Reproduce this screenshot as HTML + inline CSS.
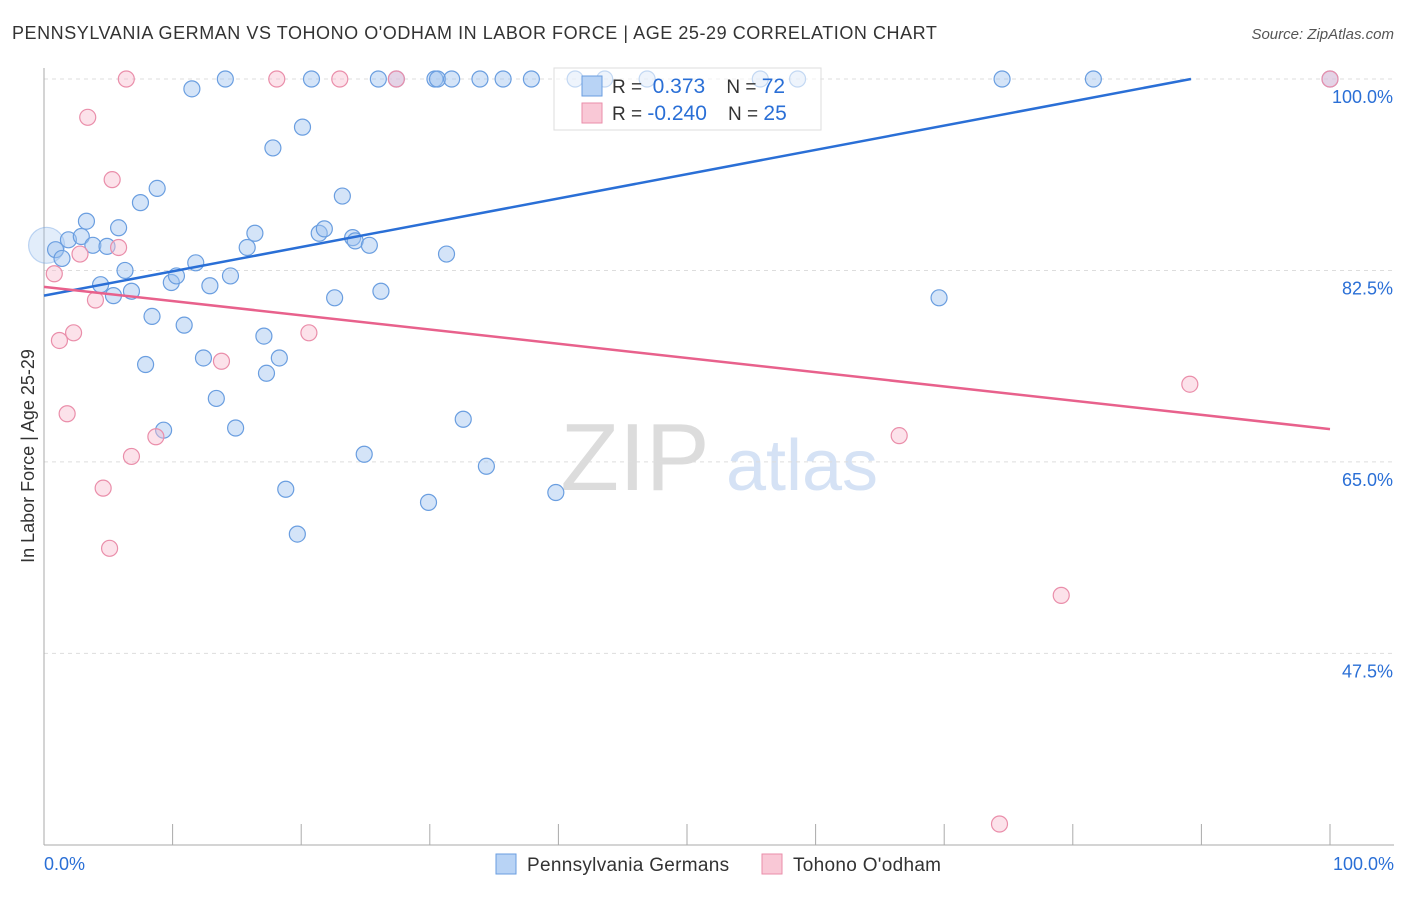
<!DOCTYPE html>
<html><head><meta charset="utf-8"><style>
body{margin:0;background:#fff;font-family:"Liberation Sans",sans-serif}
svg text{font-family:"Liberation Sans",sans-serif}
</style></head><body>
<svg id="chart" width="1406" height="892">
<text x="12" y="39" font-size="18" fill="#333" letter-spacing="0.55">PENNSYLVANIA GERMAN VS TOHONO O'ODHAM IN LABOR FORCE | AGE 25-29 CORRELATION CHART</text>
<text x="1394" y="39" font-size="15" fill="#555" font-style="italic" text-anchor="end">Source: ZipAtlas.com</text>
<text x="635" y="490" font-size="96" fill="#dcdcdc" font-family="Liberation Serif,serif" text-anchor="middle">ZIP</text>
<text x="802" y="490" font-size="72" fill="#d5e2f5" text-anchor="middle">atlas</text>
<text transform="translate(34,456) rotate(-90)" font-size="18" fill="#333" text-anchor="middle">In Labor Force | Age 25-29</text>
<g id="grid"></g><g id="marks"></g>
<g>
<rect x="554" y="68" width="267" height="62" fill="rgba(255,255,255,0.6)" stroke="#ddd"/>
<rect x="582" y="76" width="20" height="20" fill="#b8d3f5" stroke="#6a9ee0"/>
<rect x="582" y="103" width="20" height="20" fill="#f9c8d6" stroke="#ea8eaa"/>
<text x="612" y="93" font-size="19" fill="#333" style="white-space:pre">R =  <tspan fill="#2a6fd6" font-size="21">0.373</tspan>    N = <tspan fill="#2a6fd6" font-size="21">72</tspan></text>
<text x="612" y="120" font-size="19" fill="#333" style="white-space:pre">R = <tspan fill="#2a6fd6" font-size="21">-0.240</tspan>    N = <tspan fill="#2a6fd6" font-size="21">25</tspan></text>
</g>
<g>
<rect x="496" y="854" width="20" height="20" fill="#b8d3f5" stroke="#6a9ee0"/>
<text x="527" y="871" font-size="19" fill="#333" letter-spacing="0.3">Pennsylvania Germans</text>
<rect x="762" y="854" width="20" height="20" fill="#f9c8d6" stroke="#ea8eaa"/>
<text x="793" y="871" font-size="19" fill="#333" letter-spacing="0.3">Tohono O'odham</text>
</g>
</svg>
<script>
const yTicks=[100,82.5,65,47.5];
const yTickLabels=["100.0%","82.5%","65.0%","47.5%"];
const xTickCount=10;
const blueX=[0.2,0.9,1.4,1.9,2.9,3.3,3.8,4.4,4.9,5.4,5.8,6.3,6.8,7.5,7.9,8.4,8.8,9.3,9.9,10.3,10.9,11.5,11.8,12.4,12.9,13.4,14.1,14.5,14.9,15.8,16.4,17.1,17.3,17.8,18.3,18.8,19.7,20.1,20.8,21.4,21.8,22.6,23.2,24.0,24.2,24.9,25.3,26.0,26.2,27.4,29.9,30.4,30.6,31.3,31.7,32.6,33.9,34.4,35.7,37.9,39.8,41.3,43.6,46.9,55.7,58.6,69.6,74.5,81.6,100];
const blueY=[84.8,84.4,83.6,85.3,85.6,87.0,84.8,81.2,84.7,80.2,86.4,82.5,80.6,88.7,73.9,78.3,90.0,67.9,81.4,82.0,77.5,99.1,83.2,74.5,81.1,70.8,100,82.0,68.1,84.6,85.9,76.5,73.1,93.7,74.5,62.5,58.4,95.6,100,85.9,86.3,80.0,89.3,85.5,85.2,65.7,84.8,100,80.6,100,61.3,100,100,84.0,100,68.9,100,64.6,100,100,62.2,100,100,100,100,100,80.0,100,100,100];
const pinkX=[0.8,1.2,1.8,2.3,2.8,3.4,4.0,4.6,5.1,5.3,5.8,6.4,6.8,8.7,13.8,18.1,20.6,23.0,27.4,66.5,79.1,89.1,74.3,100];
const pinkY=[82.2,76.1,69.4,76.8,84.0,96.5,79.8,62.6,57.1,90.8,84.6,100,65.5,67.3,74.2,100,76.8,100,100,67.4,52.8,72.1,31.9,100];
const blueTrend=[80.2,0.222];
const pinkTrend=[81.0,-0.13];
const NS="http://www.w3.org/2000/svg";
const X=v=>44+v*12.86, Y=v=>79+(100-v)*10.94;
function mk(t,a,p){const e=document.createElementNS(NS,t);for(const k in a)e.setAttribute(k,a[k]);p.appendChild(e);return e;}
const g=document.getElementById('grid'),m=document.getElementById('marks');
yTicks.forEach((t,i)=>{
 const l=mk('line',{x1:44,x2:1394,y1:Y(t),y2:Y(t),stroke:'#ddd','stroke-dasharray':'4,4'},g);
 
 
 const tx=mk('text',{x:1393,y:Y(t)+24,'font-size':18,fill:'#2a6fd6','text-anchor':'end'},g);
 tx.textContent=yTickLabels[i];
 
 
});
const ya=mk('line',{x1:44,x2:44,y1:68,y2:845,stroke:'#aaa'},g);


const xa=mk('line',{x1:44,x2:1394,y1:845,y2:845,stroke:'#aaa'},g);


for(let i=0;i<=xTickCount;i++){const v=i*100/xTickCount;
 const t=mk('line',{x1:X(v),x2:X(v),y1:824,y2:845,stroke:'#aaa'},g);
 
 }
[[0,"0.0%",'start',44],[100,"100.0%",'end',1394]].forEach(a=>{
 const t=mk('text',{x:a[3],y:870,'font-size':18,fill:'#2a6fd6','text-anchor':a[2]},g);t.textContent=a[1];
 
 });
blueX.forEach((x,i)=>{
 const c=mk('circle',{cx:X(x),cy:Y(blueY[i]),r:i==0?18:8,fill:i==0?'rgba(160,195,240,0.3)':'rgba(160,195,240,0.45)',stroke:i==0?'rgba(106,158,224,0.4)':'#6a9ee0','stroke-width':1.2},m);
 
 });
pinkX.forEach((x,i)=>{
 const c=mk('circle',{cx:X(x),cy:Y(pinkY[i]),r:8,fill:'rgba(248,190,208,0.45)',stroke:'#ea8eaa','stroke-width':1.2},m);
 
 });
let bx2=Math.min(100,(100-blueTrend[0])/blueTrend[1]);
const bl=mk('line',{x1:X(0),y1:Y(blueTrend[0]),x2:X(bx2),y2:Y(blueTrend[0]+blueTrend[1]*bx2),stroke:'#2a6fd6','stroke-width':2.5},m);


const pl=mk('line',{x1:X(0),y1:Y(pinkTrend[0]),x2:X(100),y2:Y(pinkTrend[0]+pinkTrend[1]*100),stroke:'#e8618c','stroke-width':2.5},m);


</script>
</body></html>
